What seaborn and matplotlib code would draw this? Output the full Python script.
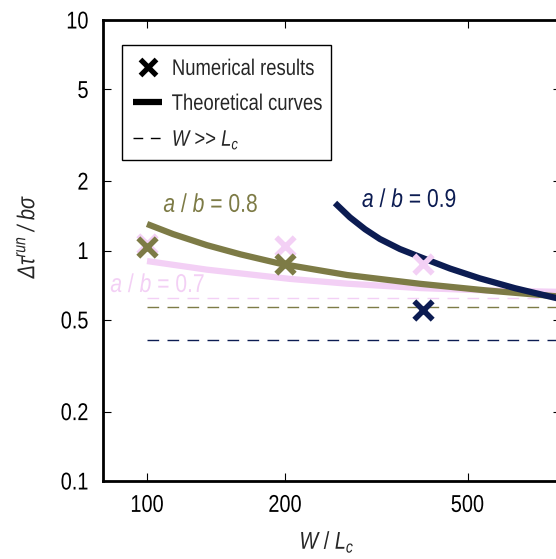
import matplotlib
matplotlib.use("Agg")
import matplotlib.pyplot as plt
from matplotlib import patheffects
from matplotlib.lines import Line2D
from matplotlib.patches import Rectangle
from matplotlib.transforms import Affine2D
from matplotlib.ticker import FixedLocator, FixedFormatter, NullLocator
import pandas as pd
import seaborn as sns

# ---- data -------------------------------------------------------------
# numerical results (crosses)
num_x_07 = [100, 200, 400]
num_y_07 = [1.07, 1.05, 0.87]
num_x_08 = [100, 200]
num_y_08 = [1.04, 0.87]
num_x_09 = [400]
num_y_09 = [0.552]

# theoretical curves
th_x_07 = [100, 135, 205, 273, 394, 550, 780, 800]
th_y_07 = [0.900, 0.826, 0.753, 0.718, 0.687, 0.671, 0.662, 0.661]
th_x_08 = [100, 114, 135, 160, 195, 273, 394, 550, 780, 800]
th_y_08 = [1.303, 1.178, 1.055, 0.962, 0.877, 0.783, 0.717, 0.671, 0.633, 0.630]
th_x_09 = [257, 277, 299, 322, 356, 400, 458, 532, 635, 780, 800]
th_y_09 = [1.607, 1.393, 1.236, 1.122, 1.015, 0.926, 0.835, 0.757, 0.686, 0.622, 0.617]

# large-W limits (dashed)
lim_x = [100, 800]
lim_07 = 0.620
lim_08 = 0.567
lim_09 = 0.409

ratios = ["0.7", "0.8", "0.9"]
colors = {"0.7": "#f3d0f5", "0.8": "#7d7b46", "0.9": "#0c1c52"}

x_ticks = [100, 200, 500]
x_tick_labels = ["100", "200", "500"]
y_ticks = [0.1, 0.2, 0.5, 1, 2, 5, 10]
y_tick_labels = ["0.1", "0.2", "0.5", "1", "2", "5", "10"]


class Squeeze(patheffects.AbstractPathEffect):
    """Draw text horizontally condensed about its left, centre or right edge."""

    def __init__(self, sx=0.82, anchor="center"):
        super().__init__()
        self.sx = sx
        self.anchor = anchor

    def draw_path(self, renderer, gc, tpath, affine, rgbFace=None):
        ext = tpath.get_extents()
        c = {"left": ext.x0, "center": 0.5 * (ext.x0 + ext.x1),
             "right": ext.x1}[self.anchor]
        t = Affine2D().translate(-c, 0).scale(self.sx, 1).translate(c, 0) + affine
        renderer.draw_path(gc, tpath, t, rgbFace)


SX = 0.82

# ---- style -------------------------------------------------------------
sns.set_theme(style="ticks")
base = "Liberation Sans"
plt.rcParams["font.family"] = [base, "DejaVu Sans"]
plt.rcParams["mathtext.fontset"] = "custom"
plt.rcParams["mathtext.rm"] = base
plt.rcParams["mathtext.it"] = base + ":italic"
plt.rcParams["mathtext.bf"] = base + ":bold"

fig = plt.figure(figsize=(5.56, 5.59), dpi=100)
ax = fig.add_axes([102.6 / 556, 78 / 559, 458.5 / 556, 461 / 559])

curves = pd.concat([
    pd.DataFrame({"W": th_x_07, "dt": th_y_07, "ratio": "0.7"}),
    pd.DataFrame({"W": th_x_08, "dt": th_y_08, "ratio": "0.8"}),
    pd.DataFrame({"W": th_x_09, "dt": th_y_09, "ratio": "0.9"}),
])
limits = pd.DataFrame({
    "W": lim_x * 3,
    "dt": [lim_07] * 2 + [lim_08] * 2 + [lim_09] * 2,
    "ratio": ["0.7"] * 2 + ["0.8"] * 2 + ["0.9"] * 2,
})
numeric = pd.concat([
    pd.DataFrame({"W": num_x_07, "dt": num_y_07, "ratio": "0.7"}),
    pd.DataFrame({"W": num_x_08, "dt": num_y_08, "ratio": "0.8"}),
    pd.DataFrame({"W": num_x_09, "dt": num_y_09, "ratio": "0.9"}),
])

for r in ratios:
    sns.lineplot(data=limits[limits.ratio == r], x="W", y="dt", ax=ax,
                 color=colors[r], linewidth=1.0, linestyle=(0, (8.4, 6)),
                 estimator=None, sort=False, legend=False, zorder=2)
for r in ratios:
    sns.lineplot(data=curves[curves.ratio == r], x="W", y="dt", ax=ax,
                 color=colors[r], linewidth=4.5, estimator=None, sort=False,
                 legend=False, zorder=3, solid_capstyle="butt",
                 solid_joinstyle="round")
for r in ratios:
    sns.scatterplot(data=numeric[numeric.ratio == r], x="W", y="dt", ax=ax,
                    marker="x", s=175, linewidth=4.0, color=colors[r],
                    legend=False, zorder=5)

ax.set_xscale("log")
ax.set_yscale("log")
ax.set_xlim(80, 800)
ax.set_ylim(0.1, 10)

ax.xaxis.set_major_locator(FixedLocator(x_ticks))
ax.xaxis.set_major_formatter(FixedFormatter(x_tick_labels))
ax.yaxis.set_major_locator(FixedLocator(y_ticks))
ax.yaxis.set_major_formatter(FixedFormatter(y_tick_labels))
ax.xaxis.set_minor_locator(NullLocator())
ax.yaxis.set_minor_locator(NullLocator())
ax.tick_params(which="major", direction="in", length=5.8, width=0.8,
               top=True, right=True, labelsize=17.5, pad=10, color="black",
               labelcolor="black")
for s in ax.spines.values():
    s.set_linewidth(2.0)
    s.set_color("black")

for t in ax.xaxis.get_major_ticks():
    t.label1.set_path_effects([Squeeze(SX, "center")])
for t in ax.yaxis.get_major_ticks():
    t.label1.set_path_effects([Squeeze(SX, "right")])

ax.set_xlabel("$W$ / $L_c$", fontsize=17.5,
              path_effects=[Squeeze(SX, "center")])
ax.xaxis.set_label_coords(0.489, -0.106)
ax.set_ylabel("Δτ$^{run}$ / bσ", fontsize=17.5, fontstyle="italic",
              path_effects=[Squeeze(SX, "center")])
ax.yaxis.set_label_coords(-0.138, 0.531)

# curve labels
for xt, yt, r in [(138, 1.576, "0.8"), (105.7, 0.708, "0.7"), (374, 1.656, "0.9")]:
    ax.text(xt, yt, f"$a$ / $b$ = {r}", color=colors[r], fontsize=18.5,
            ha="center", va="center", path_effects=[Squeeze(SX, "center")])

# legend
handles = [
    Line2D([], [], color="black", marker="x", linestyle="", markersize=11.5,
           markeredgewidth=3.8),
    Line2D([], [], color="black", linewidth=4.5, solid_capstyle="butt"),
    Line2D([], [], color="black", linewidth=1.0, linestyle=(0, (7, 5.5))),
]
labels = ["Numerical results", "Theoretical curves", "$W$ >> $L_c$"]
leg = ax.legend(handles, labels, loc="upper left",
                bbox_to_anchor=(0.0415, 0.9400), borderaxespad=0,
                fontsize=16.2, frameon=False, handlelength=1.3,
                handletextpad=0.42, labelspacing=0.62, borderpad=0.5)
for txt in leg.get_texts():
    txt.set_path_effects([Squeeze(SX, "left")])
ax.add_patch(Rectangle((0.0423, 0.696), 0.4557, 0.250, transform=ax.transAxes,
                       fill=True, facecolor="white", edgecolor="black",
                       linewidth=1.0, zorder=6))
leg.set_zorder(7)

fig.savefig("out.png", dpi=100)
